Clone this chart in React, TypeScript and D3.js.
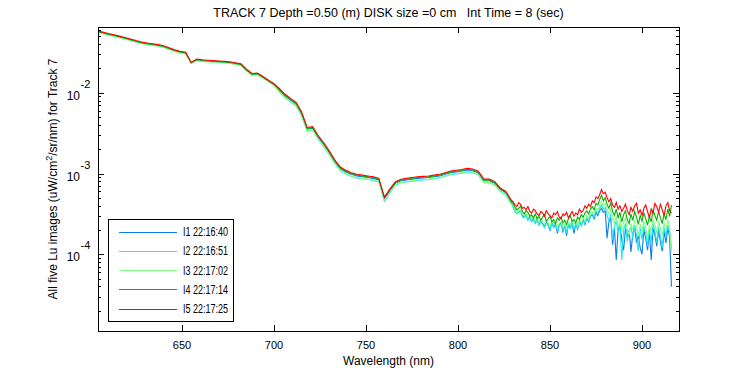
import React from "react";
import * as d3 from "d3";

// wavelength grids (nm)
const wlA = d3.range(604, 830, 3);
const wlB = d3.range(830, 917, 1);
const wavelengths = [...wlA, ...wlB];

const xTicks = [650, 700, 750, 800, 850, 900];
const yDecades = [-2, -3, -4];
const legendLabels = ["I1 22:16:40", "I2 22:16:51", "I3 22:17:02", "I4 22:17:14", "I5 22:17:25"];
const seriesColors = ["#0a7cf0", "#22e4f2", "#80ff80", "#00b400", "#ff0000"];

// log10 values, part A (604..829 step 3)
const i1A = [-1.247,-1.262,-1.28,-1.295,-1.312,-1.33,-1.347,-1.367,-1.384,-1.397,-1.407,-1.417,-1.432,-1.457,-1.482,-1.5,-1.512,-1.632,-1.597,-1.605,-1.61,-1.615,-1.619,-1.624,-1.63,-1.642,-1.655,-1.722,-1.774,-1.77,-1.812,-1.857,-1.902,-1.97,-2.04,-2.09,-2.14,-2.26,-2.45,-2.44,-2.55,-2.64,-2.74,-2.85,-2.94,-2.98,-3.01,-3.03,-3.04,-3.05,-3.06,-3.08,-3.32,-3.21,-3.12,-3.09,-3.08,-3.07,-3.06,-3.055,-3.05,-3.04,-3.03,-3.01,-2.99,-2.98,-2.97,-2.955,-2.965,-2.99,-3.09,-3.09,-3.12,-3.2,-3.24,-3.36];
const i2A = [-1.25,-1.265,-1.283,-1.298,-1.315,-1.333,-1.35,-1.37,-1.387,-1.4,-1.41,-1.42,-1.435,-1.46,-1.485,-1.503,-1.515,-1.635,-1.6,-1.608,-1.613,-1.618,-1.622,-1.627,-1.633,-1.645,-1.658,-1.725,-1.777,-1.773,-1.815,-1.86,-1.905,-1.995,-2.065,-2.115,-2.165,-2.285,-2.475,-2.465,-2.575,-2.665,-2.765,-2.875,-2.965,-3.005,-3.035,-3.055,-3.065,-3.075,-3.085,-3.105,-3.345,-3.235,-3.145,-3.115,-3.105,-3.095,-3.085,-3.08,-3.075,-3.065,-3.055,-3.035,-3.015,-3.005,-2.995,-2.98,-2.99,-3.015,-3.115,-3.115,-3.145,-3.225,-3.265,-3.375];
const i3A = [-1.255,-1.27,-1.288,-1.303,-1.32,-1.338,-1.355,-1.375,-1.392,-1.405,-1.415,-1.425,-1.44,-1.465,-1.49,-1.508,-1.52,-1.64,-1.605,-1.613,-1.618,-1.623,-1.627,-1.632,-1.638,-1.65,-1.663,-1.73,-1.782,-1.778,-1.82,-1.865,-1.91,-1.99,-2.06,-2.11,-2.16,-2.28,-2.47,-2.46,-2.57,-2.66,-2.76,-2.87,-2.96,-3.0,-3.03,-3.05,-3.06,-3.07,-3.08,-3.1,-3.33,-3.24,-3.14,-3.11,-3.1,-3.09,-3.08,-3.075,-3.07,-3.06,-3.05,-3.03,-3.01,-3.0,-2.99,-2.975,-2.985,-3.01,-3.11,-3.11,-3.14,-3.22,-3.26,-3.38];
const i4A = [-1.243,-1.258,-1.276,-1.291,-1.308,-1.326,-1.343,-1.363,-1.38,-1.393,-1.403,-1.413,-1.428,-1.453,-1.478,-1.496,-1.508,-1.625,-1.593,-1.601,-1.606,-1.611,-1.615,-1.62,-1.626,-1.638,-1.651,-1.718,-1.77,-1.766,-1.808,-1.853,-1.898,-1.962,-2.032,-2.082,-2.132,-2.252,-2.442,-2.432,-2.542,-2.632,-2.732,-2.842,-2.932,-2.972,-3.0,-3.022,-3.03,-3.042,-3.05,-3.072,-3.29,-3.2,-3.112,-3.08,-3.072,-3.062,-3.05,-3.047,-3.042,-3.03,-3.022,-3.0,-2.982,-2.972,-2.962,-2.947,-2.957,-2.982,-3.08,-3.082,-3.112,-3.19,-3.232,-3.35];
const i5A = [-1.235,-1.25,-1.268,-1.283,-1.3,-1.318,-1.335,-1.355,-1.372,-1.385,-1.395,-1.405,-1.42,-1.445,-1.47,-1.488,-1.5,-1.63,-1.585,-1.593,-1.598,-1.603,-1.607,-1.612,-1.618,-1.63,-1.643,-1.71,-1.762,-1.758,-1.8,-1.845,-1.89,-1.95,-2.02,-2.07,-2.12,-2.24,-2.43,-2.42,-2.53,-2.62,-2.72,-2.83,-2.92,-2.96,-2.99,-3.01,-3.02,-3.03,-3.04,-3.06,-3.3,-3.19,-3.1,-3.07,-3.06,-3.05,-3.04,-3.035,-3.03,-3.02,-3.01,-2.99,-2.97,-2.96,-2.95,-2.935,-2.945,-2.97,-3.07,-3.07,-3.1,-3.18,-3.22,-3.33];

// log10 values, part B (830..916 step 1)
const i1B = [-3.41,-3.46,-3.49,-3.47,-3.46,-3.52,-3.54,-3.51,-3.57,-3.54,-3.59,-3.56,-3.61,-3.57,-3.63,-3.59,-3.62,-3.66,-3.6,-3.64,-3.7,-3.61,-3.66,-3.63,-3.74,-3.64,-3.61,-3.72,-3.65,-3.77,-3.63,-3.67,-3.61,-3.74,-3.62,-3.69,-3.59,-3.64,-3.57,-3.63,-3.55,-3.6,-3.53,-3.51,-3.56,-3.48,-3.52,-3.46,-3.43,-3.48,-3.46,-3.8,-3.6,-3.55,-3.88,-3.68,-4.07,-3.7,-3.64,-3.82,-3.95,-3.68,-3.78,-3.7,-3.97,-3.74,-3.66,-3.86,-3.76,-3.92,-4.0,-3.7,-3.8,-3.95,-3.72,-4.07,-3.68,-3.76,-3.9,-3.7,-3.84,-3.96,-3.72,-3.86,-3.68,-3.78,-4.4];
const i2B = [-3.42,-3.47,-3.5,-3.48,-3.47,-3.53,-3.55,-3.52,-3.58,-3.55,-3.6,-3.57,-3.62,-3.58,-3.64,-3.6,-3.63,-3.67,-3.61,-3.65,-3.69,-3.62,-3.67,-3.64,-3.71,-3.65,-3.62,-3.7,-3.66,-3.73,-3.64,-3.68,-3.62,-3.69,-3.63,-3.68,-3.6,-3.65,-3.58,-3.62,-3.55,-3.59,-3.52,-3.5,-3.54,-3.46,-3.49,-3.43,-3.39,-3.44,-3.42,-3.52,-3.58,-3.5,-3.82,-3.66,-3.58,-3.74,-3.63,-4.07,-3.7,-3.62,-3.84,-3.72,-3.66,-3.8,-3.64,-3.76,-3.96,-3.68,-3.82,-3.65,-3.74,-3.9,-3.69,-3.84,-3.62,-3.71,-3.86,-3.66,-3.78,-3.92,-3.67,-3.77,-3.64,-3.72,-3.92];
const i3B = [-3.4,-3.44,-3.49,-3.46,-3.45,-3.5,-3.53,-3.49,-3.55,-3.52,-3.57,-3.54,-3.59,-3.55,-3.61,-3.57,-3.6,-3.63,-3.58,-3.61,-3.65,-3.59,-3.63,-3.6,-3.66,-3.62,-3.59,-3.65,-3.62,-3.67,-3.61,-3.64,-3.58,-3.63,-3.6,-3.65,-3.57,-3.61,-3.55,-3.58,-3.52,-3.55,-3.49,-3.47,-3.5,-3.43,-3.45,-3.39,-3.35,-3.4,-3.37,-3.45,-3.5,-3.44,-3.56,-3.62,-3.53,-3.66,-3.57,-3.72,-3.6,-3.55,-3.69,-3.76,-3.62,-3.7,-3.57,-3.65,-3.78,-3.63,-3.71,-3.59,-3.67,-3.8,-3.64,-3.72,-3.56,-3.63,-3.74,-3.59,-3.68,-3.77,-3.61,-3.69,-3.57,-3.66,-3.97];
const i4B = [-3.37,-3.42,-3.45,-3.43,-3.4,-3.47,-3.5,-3.46,-3.48,-3.53,-3.51,-3.55,-3.5,-3.56,-3.53,-3.58,-3.54,-3.51,-3.59,-3.56,-3.53,-3.6,-3.57,-3.62,-3.55,-3.58,-3.54,-3.61,-3.58,-3.63,-3.56,-3.52,-3.59,-3.57,-3.61,-3.54,-3.57,-3.51,-3.54,-3.49,-3.46,-3.5,-3.44,-3.41,-3.45,-3.37,-3.39,-3.32,-3.27,-3.34,-3.3,-3.38,-3.43,-3.36,-3.47,-3.52,-3.44,-3.55,-3.48,-3.6,-3.51,-3.46,-3.57,-3.62,-3.5,-3.58,-3.47,-3.54,-3.63,-3.52,-3.59,-3.49,-3.56,-3.64,-3.53,-3.6,-3.45,-3.52,-3.58,-3.47,-3.55,-3.62,-3.5,-3.57,-3.44,-3.53,-3.39];
const i5B = [-3.35,-3.39,-3.41,-3.36,-3.38,-3.43,-3.42,-3.45,-3.41,-3.47,-3.49,-3.44,-3.46,-3.5,-3.52,-3.47,-3.49,-3.53,-3.46,-3.5,-3.52,-3.55,-3.49,-3.51,-3.47,-3.54,-3.56,-3.5,-3.52,-3.48,-3.55,-3.51,-3.47,-3.53,-3.49,-3.51,-3.44,-3.48,-3.46,-3.4,-3.43,-3.38,-3.41,-3.34,-3.36,-3.29,-3.31,-3.26,-3.2,-3.25,-3.23,-3.3,-3.35,-3.31,-3.39,-3.42,-3.36,-3.44,-3.4,-3.47,-3.43,-3.38,-3.46,-3.51,-3.42,-3.47,-3.4,-3.37,-3.49,-3.45,-3.52,-3.43,-3.39,-3.47,-3.55,-3.44,-3.49,-3.37,-3.41,-3.48,-3.38,-3.45,-3.52,-3.4,-3.36,-3.46,-3.49];

const seriesLog = [
  [...i1A, ...i1B],
  [...i2A, ...i2B],
  [...i3A, ...i3B],
  [...i4A, ...i4B],
  [...i5A, ...i5B],
];

const W = 750, H = 375;
const L = 98, R = 679, T = 27, B = 331;
const FONT = "'Liberation Sans', Arial, Helvetica, sans-serif";

export default function App() {
  const x = d3.scaleLinear().domain([604.35, 920.1]).range([L, R]);
  const y = d3.scaleLog().domain([Math.pow(10, -4.949), Math.pow(10, -1.187)]).range([B, T]);

  const line = d3
    .line<[number, number]>()
    .x((d) => x(d[0]))
    .y((d) => y(Math.pow(10, d[1])));

  const minorTicks: number[] = [];
  for (let dec = -5; dec <= -1; dec++) {
    for (let k = 2; k <= 9; k++) {
      const v = k * Math.pow(10, dec);
      if (v > y.domain()[0] && v < y.domain()[1]) minorTicks.push(v);
    }
  }

  const legendX = 108.5, legendY = 219.5, legendW = 125, legendH = 102;
  const rowY = (i: number) => 231.5 + i * 19.25;

  return (
    <svg width={W} height={H} style={{ display: "block", position: "absolute", left: 0, top: 0, background: "#fff" }}>
      <rect x={0} y={0} width={W} height={H} fill="#fff" />
      <defs>
        <clipPath id="plotclip">
          <rect x={L} y={T} width={R - L} height={B - T} />
        </clipPath>
      </defs>
      <g clipPath="url(#plotclip)">
        {seriesLog.map((vals, si) => {
          const n = Math.min(vals.length, wavelengths.length);
          const pts: [number, number][] = [];
          for (let i = 0; i < n; i++) pts.push([wavelengths[i], vals[i]]);
          return <path key={si} d={line(pts) || ""} fill="none" stroke={seriesColors[si]} strokeWidth={1.1} />;
        })}
      </g>
      <rect x={L + 0.5} y={T + 0.5} width={R - L} height={B - T} fill="none" stroke="#000" strokeWidth={1} shapeRendering="crispEdges" />
      {xTicks.map((t) => (
        <g key={t}>
          <line x1={Math.round(x(t)) + 0.5} x2={Math.round(x(t)) + 0.5} y1={B} y2={B - 6} stroke="#000" shapeRendering="crispEdges" />
          <line x1={Math.round(x(t)) + 0.5} x2={Math.round(x(t)) + 0.5} y1={T} y2={T + 6} stroke="#000" shapeRendering="crispEdges" />
          <text x={x(t)} y={349} textAnchor="middle" fontFamily={FONT} fontSize={11}>{t}</text>
        </g>
      ))}
      {yDecades.map((d) => {
        const yy = Math.round(y(Math.pow(10, d))) + 0.5;
        return (
          <g key={d}>
            <line x1={L} x2={L + 6} y1={yy} y2={yy} stroke="#000" shapeRendering="crispEdges" />
            <line x1={R} x2={R - 6} y1={yy} y2={yy} stroke="#000" shapeRendering="crispEdges" />
            <text x={80} y={yy + 6} textAnchor="end" fontFamily={FONT} fontSize={12}>10</text>
            <text x={80.5} y={yy - 6} textAnchor="start" fontFamily={FONT} fontSize={11}>{d}</text>
          </g>
        );
      })}
      {minorTicks.map((v, i) => {
        const yy = Math.round(y(v)) + 0.5;
        return (
          <g key={i} shapeRendering="crispEdges">
            <line x1={L} x2={L + 3} y1={yy} y2={yy} stroke="#000" />
            <line x1={R} x2={R - 3} y1={yy} y2={yy} stroke="#000" />
          </g>
        );
      })}
      <text x={(L + R) / 2} y={17} textAnchor="middle" fontFamily={FONT} fontSize={12.5} style={{ whiteSpace: "pre" }}>
        {"TRACK 7 Depth =0.50 (m) DISK size =0 cm   Int Time = 8 (sec)"}
      </text>
      <text x={(L + R) / 2} y={365} textAnchor="middle" fontFamily={FONT} fontSize={12}>Wavelength (nm)</text>
      <text transform={`translate(57,${(T + B) / 2}) rotate(-90)`} textAnchor="middle" fontFamily={FONT} fontSize={12}>
        All five Lu images (uW/cm<tspan dy={-5} fontSize={9}>2</tspan><tspan dy={5}>/sr/nm) for Track 7</tspan>
      </text>
      <rect x={legendX} y={legendY} width={legendW} height={legendH} fill="#fff" stroke="#000" shapeRendering="crispEdges" />
      {legendLabels.map((lab, i) => (
        <g key={lab}>
          <line x1={119} x2={177} y1={Math.round(rowY(i)) + 0.5} y2={Math.round(rowY(i)) + 0.5} stroke={seriesColors[i]} shapeRendering="crispEdges" />
          <text x={183} y={rowY(i) + 4.5} fontFamily={FONT} fontSize={12.5} textLength={45} lengthAdjust="spacingAndGlyphs">{lab}</text>
        </g>
      ))}
    </svg>
  );
}
